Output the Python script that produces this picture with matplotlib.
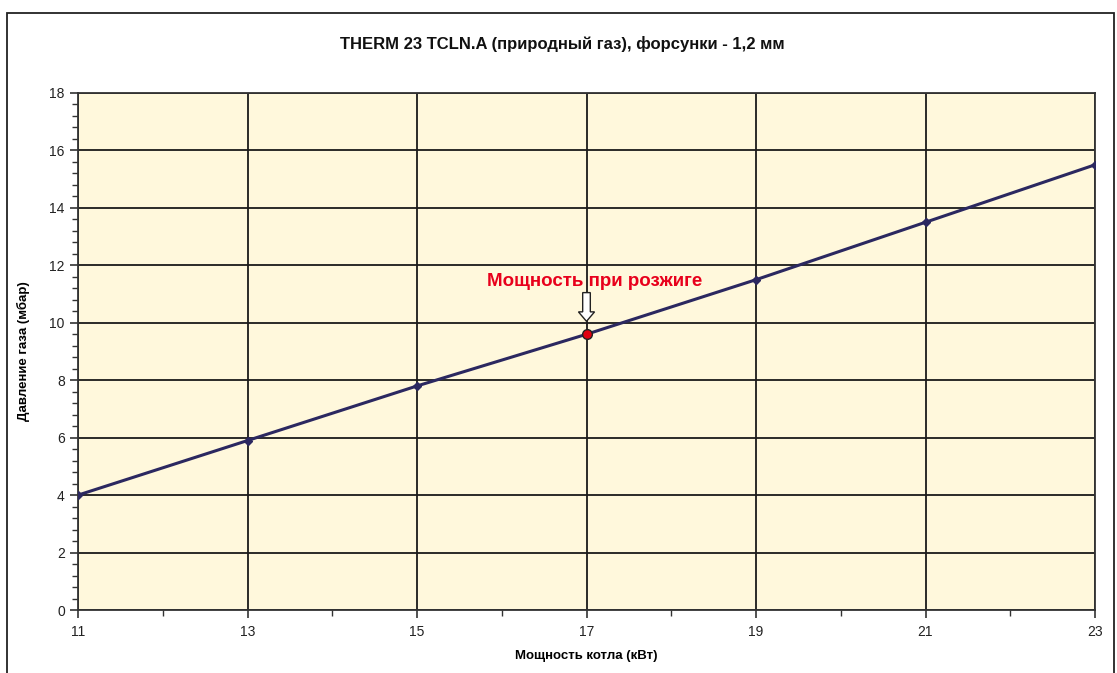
import matplotlib.pyplot as plt
from matplotlib.patches import Rectangle, FancyArrow

# boiler power (kW) vs gas pressure (mbar)
power = [11, 13, 15, 17, 19, 21, 23]
pressure = [4.0, 5.9, 7.8, 9.6, 11.5, 13.5, 15.5]

ignition_power = 17
ignition_pressure = 9.6

title = 'THERM 23 TCLN.A (природный газ), форсунки - 1,2 мм'
xlabel = 'Мощность котла (кВт)'
ylabel = 'Давление газа (мбар)'
note = 'Мощность при розжиге'

plt.rcParams['font.family'] = ['Liberation Sans', 'DejaVu Sans']

fig = plt.figure(figsize=(11.17, 6.73), dpi=100)

# outer chart frame
fig.patches.append(Rectangle((7 / 1117, -0.01), 1107 / 1117, 1 - 13 / 673 + 0.01,
                             transform=fig.transFigure, fill=False,
                             edgecolor='#222222', linewidth=1.3))

ax = fig.add_axes([78 / 1117, 1 - 610 / 673, 1017 / 1117, 517 / 673])
ax.set_facecolor('#FFF8DC')

ax.plot(power, pressure, color='#2B2860', linewidth=2.2, marker='D',
        markersize=4, zorder=3)
ax.plot([ignition_power], [ignition_pressure], 'o', color='#E00010',
        markeredgecolor='#222222', markersize=7, zorder=4)

# hollow arrow pointing at the ignition point
arrow = FancyArrow(ignition_power, ignition_pressure + 1.45, 0, -1.0,
                   width=0.09, head_width=0.19, head_length=0.33,
                   length_includes_head=True, facecolor='white',
                   edgecolor='#222222', linewidth=1, zorder=5)
ax.add_patch(arrow)
ax.text(17.1, 11.45, note, color='#E8001C', fontsize=13.5, fontweight='bold',
        ha='center', va='center')

ax.set_xlim(11, 23)
ax.set_ylim(0, 18)
ax.set_xticks(power)
ax.set_xticks([12, 14, 16, 18, 20, 22], minor=True)
ax.set_yticks(range(0, 19, 2))
ax.set_yticks([i * 0.4 for i in range(46)], minor=True)
ax.grid(True, which='major', color='#1a1a1a', linewidth=1.3)
ax.set_axisbelow(True)

for s in ax.spines.values():
    s.set_color('#333333')
    s.set_linewidth(1.3)

ax.tick_params(which='major', length=6, width=1.2, color='#333333',
               labelsize=10, labelcolor='#222222', direction='out')
ax.tick_params(which='minor', length=4, width=1.0, color='#333333', direction='out')
ax.tick_params(axis='x', pad=5)

ax.set_xlabel(xlabel, fontsize=9.5, fontweight='bold', labelpad=8)
ax.set_ylabel(ylabel, fontsize=9.5, fontweight='bold', labelpad=14)
fig.text(562 / 1117, 1 - 44 / 673, title, fontsize=12, fontweight='bold',
         ha='center', va='center', color='#111111')

fig.savefig('out.png', dpi=100)
